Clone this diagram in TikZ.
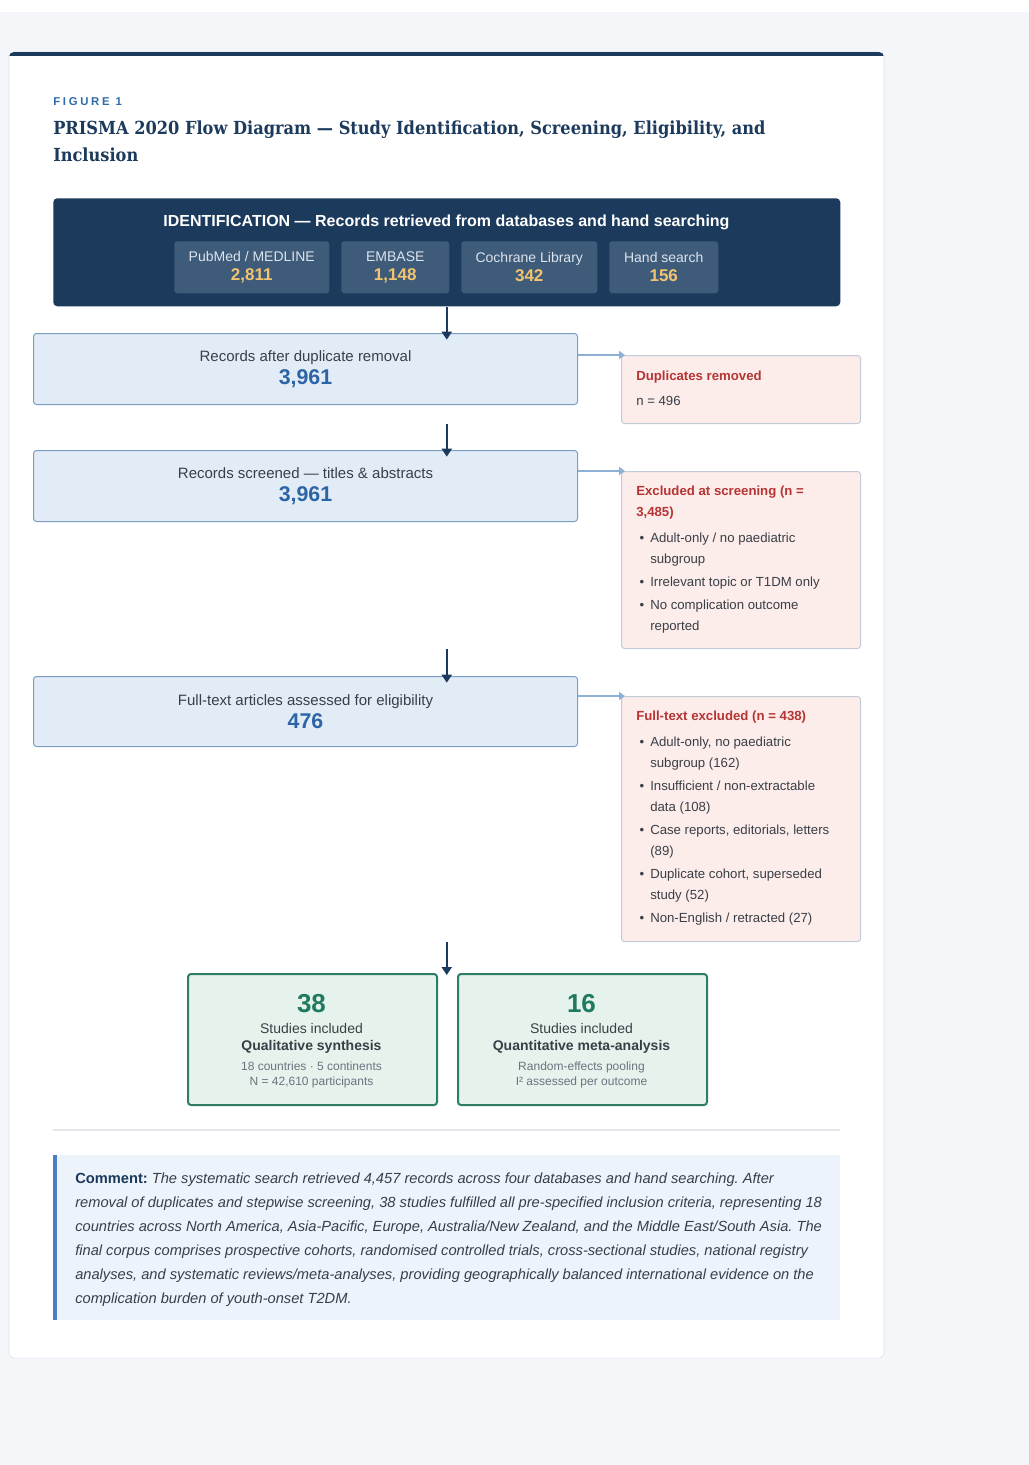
\documentclass[tikz,border=0pt]{standalone}
\usepackage{fontspec}
\setmainfont{Liberation Sans}
\newfontfamily\titlefont[FakeStretch=0.9]{DejaVu Serif}
\usetikzlibrary{arrows.meta}
\frenchspacing

\definecolor{pagebg}{HTML}{F4F6F9}
\definecolor{cardline}{HTML}{DDE2E8}
\definecolor{navy}{HTML}{1B3A5C}
\definecolor{dbfill}{HTML}{3E5B7A}
\definecolor{dbtext}{HTML}{DCE4EE}
\definecolor{gold}{HTML}{F2C46F}
\definecolor{figblue}{HTML}{2F6BA8}
\definecolor{mainfill}{HTML}{E2ECF7}
\definecolor{mainline}{HTML}{7B9DC4}
\definecolor{numblue}{HTML}{2C64A6}
\definecolor{bodytext}{HTML}{3A3F47}
\definecolor{exfill}{HTML}{FCECEA}
\definecolor{exline}{HTML}{C2CAD5}
\definecolor{exred}{HTML}{B63434}
\definecolor{sideblue}{HTML}{8DB0D4}
\definecolor{incfill}{HTML}{E6F3EC}
\definecolor{incline}{HTML}{2E7D64}
\definecolor{incnum}{HTML}{1F7A60}
\definecolor{greytext}{HTML}{6B7280}
\definecolor{sepgrey}{HTML}{E3E7EC}
\definecolor{cmfill}{HTML}{EDF3FA}
\definecolor{cmbar}{HTML}{4A80C2}

\newcommand{\bitem}[1]{\hspace*{2.5pt}\makebox[8pt][l]{\textbullet}#1}
\newcommand{\bcont}[1]{\hspace*{10.5pt}#1}

\begin{document}
\begin{tikzpicture}[x=0.75pt,y=-0.75pt]
\tikzstyle{every node}+=[inner sep=0pt]
\tikzstyle{dbbox}=[fill=dbfill, rounded corners=2.25pt, anchor=north west, minimum height=39pt, align=center, text=dbtext, font=\fontsize{10.5}{14.25}\selectfont]
\tikzstyle{mainbox}=[draw=mainline, fill=mainfill, line width=0.75pt, rounded corners=2.25pt, anchor=north west, minimum width=408pt, align=center, text=bodytext, font=\fontsize{11.25}{17.25}\selectfont]
\tikzstyle{exbox}=[draw=exline, fill=exfill, line width=0.75pt, rounded corners=2.25pt, anchor=north west, minimum width=179.25pt]
\tikzstyle{extext}=[anchor=north west, align=left, text=bodytext, font=\fontsize{9.9}{15.75}\selectfont]
\tikzstyle{incbox}=[draw=incline, fill=incfill, line width=1.5pt, rounded corners=2.25pt, anchor=north west, minimum width=186.75pt, minimum height=98.25pt]
\tikzstyle{inctext}=[align=center, text=bodytext, font=\fontsize{10.5}{12.75}\selectfont]
\tikzstyle{downarrow}=[draw=navy, line width=1.5pt, -{Triangle[length=6pt,width=7.5pt]}]
\tikzstyle{sidearrow}=[draw=sideblue, line width=1.5pt, -{Triangle[length=4.5pt,width=6pt]}]

\fill[pagebg] (0,0) rectangle (1029,1465);
\fill[white] (0,0) rectangle (1029,12);
\useasboundingbox (0,0) rectangle (1029,1465);
\draw[cardline, fill=white, rounded corners=3.75pt] (9,52) rectangle (884,1358);
\begin{scope}
\clip[rounded corners=3.75pt] (9,52) rectangle (884,1358);
\fill[navy] (9,52) rectangle (884,56);
\end{scope}

\node[anchor=west, text=figblue, font=\fontsize{8.5}{10}\selectfont\bfseries] (fig) at (53,102) {\addfontfeature{LetterSpace=24}FIGURE 1};
\node[anchor=north west, align=left, text=navy, font=\titlefont\bfseries\fontsize{13.5}{20.25}\selectfont] (title) at (53,121) {PRISMA 2020 Flow Diagram — Study Identification, Screening, Eligibility, and\\Inclusion};

\node[fill=navy, rounded corners=3pt, anchor=north west, minimum width=590.25pt, minimum height=81pt] (ident) at (53,198) {};
\node[text=white, font=\fontsize{12}{14}\selectfont\bfseries] (identt) at (446.5,222) {IDENTIFICATION — Records retrieved from databases and hand searching};
\node[dbbox, minimum width=116.25pt] (pubmed) at (174,241) {PubMed / MEDLINE\\{\fontsize{12.75}{15}\selectfont\bfseries\color{gold}2,811}};
\node[dbbox, minimum width=81pt] (embase) at (341,241) {EMBASE\\{\fontsize{12.75}{15}\selectfont\bfseries\color{gold}1,148}};
\node[dbbox, minimum width=102pt] (cochrane) at (461,241) {Cochrane Library\\{\fontsize{12.75}{15}\selectfont\bfseries\color{gold}342}};
\node[dbbox, minimum width=81.75pt] (hand) at (609,241) {Hand search\\{\fontsize{12.75}{15}\selectfont\bfseries\color{gold}156}};

\node[mainbox, minimum height=53.25pt] (rec) at (33,333) {Records after duplicate removal\\{\fontsize{16}{16}\selectfont\bfseries\color{numblue}3,961}};
\node[mainbox, minimum height=53.25pt] (scr) at (33,450) {Records screened — titles \& abstracts\\{\fontsize{16}{16}\selectfont\bfseries\color{numblue}3,961}};
\node[mainbox, minimum height=52.5pt] (full) at (33,676) {Full-text articles assessed for eligibility\\{\fontsize{16}{16}\selectfont\bfseries\color{numblue}476}};

\node[exbox, minimum height=51pt] (dup) at (621,355) {};
\node[extext] (dupt) at (636,371) {\textcolor{exred}{\textbf{Duplicates removed}}\\[3pt]n = 496};
\node[exbox, minimum height=132.75pt] (exs) at (621,471) {};
\node[extext] (exst) at (636,486) {\textcolor{exred}{\textbf{Excluded at screening (n =}}\\\textcolor{exred}{\textbf{3,485)}}\\[3.75pt]\bitem{Adult-only / no paediatric}\\\bcont{subgroup}\\[1.5pt]\bitem{Irrelevant topic or T1DM only}\\[1.5pt]\bitem{No complication outcome}\\\bcont{reported}};
\node[exbox, minimum height=183.75pt] (exf) at (621,696) {};
\node[extext] (exft) at (636,711) {\textcolor{exred}{\textbf{Full-text excluded (n = 438)}}\\[3.75pt]\bitem{Adult-only, no paediatric}\\\bcont{subgroup (162)}\\[1.5pt]\bitem{Insufficient / non-extractable}\\\bcont{data (108)}\\[1.5pt]\bitem{Case reports, editorials, letters}\\\bcont{(89)}\\[1.5pt]\bitem{Duplicate cohort, superseded}\\\bcont{study (52)}\\[1.5pt]\bitem{Non-English / retracted (27)}};

\node[incbox] (qual) at (187,973) {};
\node[inctext] (qualt) at (311.5,1041) {{\fontsize{19.5}{19.5}\selectfont\bfseries\color{incnum}38}\\[2.5pt]Studies included\\\textbf{Qualitative synthesis}\\[2.25pt]{\fontsize{9}{11.25}\selectfont\color{greytext}18 countries · 5 continents}\\[-1.5pt]{\fontsize{9}{11.25}\selectfont\color{greytext}N = 42,610 participants}};
\node[incbox] (quan) at (457,973) {};
\node[inctext] (quant) at (581.5,1041) {{\fontsize{19.5}{19.5}\selectfont\bfseries\color{incnum}16}\\[2.5pt]Studies included\\\textbf{Quantitative meta-analysis}\\[2.25pt]{\fontsize{9}{11.25}\selectfont\color{greytext}Random-effects pooling}\\[-1.5pt]{\fontsize{9}{11.25}\selectfont\color{greytext}I² assessed per outcome}};

\draw[downarrow] (ident.south) -- ([yshift=-5pt]ident.south |- rec.north);
\draw[downarrow] (ident.south |- dup.south) -- ([yshift=-5pt]ident.south |- scr.north);
\draw[downarrow] (ident.south |- exs.south) -- ([yshift=-5pt]ident.south |- full.north);
\draw[downarrow] (ident.south |- exf.south) -- ([yshift=-1.5pt]ident.south |- qual.north);
\draw[sidearrow] (rec.east |- dup.north) -- ([xshift=3pt]dup.north west);
\draw[sidearrow] (scr.east |- exs.north) -- ([xshift=3pt]exs.north west);
\draw[sidearrow] (full.east |- exf.north) -- ([xshift=3pt]exf.north west);

\draw[sepgrey, line width=1.5pt] (53,1130) -- (840,1130);
\fill[cmfill] (53,1155) rectangle (840,1320);
\fill[cmbar] (53,1155) rectangle (57,1320);
\node[anchor=north west, align=left, text=bodytext, font=\fontsize{11}{18}\selectfont] (cmt) at (75,1173) {\textcolor{navy}{\textbf{Comment:}} \textit{The systematic search retrieved 4,457 records across four databases and hand searching. After}\\\textit{removal of duplicates and stepwise screening, 38 studies fulfilled all pre-specified inclusion criteria, representing 18}\\\textit{countries across North America, Asia-Pacific, Europe, Australia/New Zealand, and the Middle East/South Asia. The}\\\textit{final corpus comprises prospective cohorts, randomised controlled trials, cross-sectional studies, national registry}\\\textit{analyses, and systematic reviews/meta-analyses, providing geographically balanced international evidence on the}\\\textit{complication burden of youth-onset T2DM.}};
\end{tikzpicture}
\end{document}
